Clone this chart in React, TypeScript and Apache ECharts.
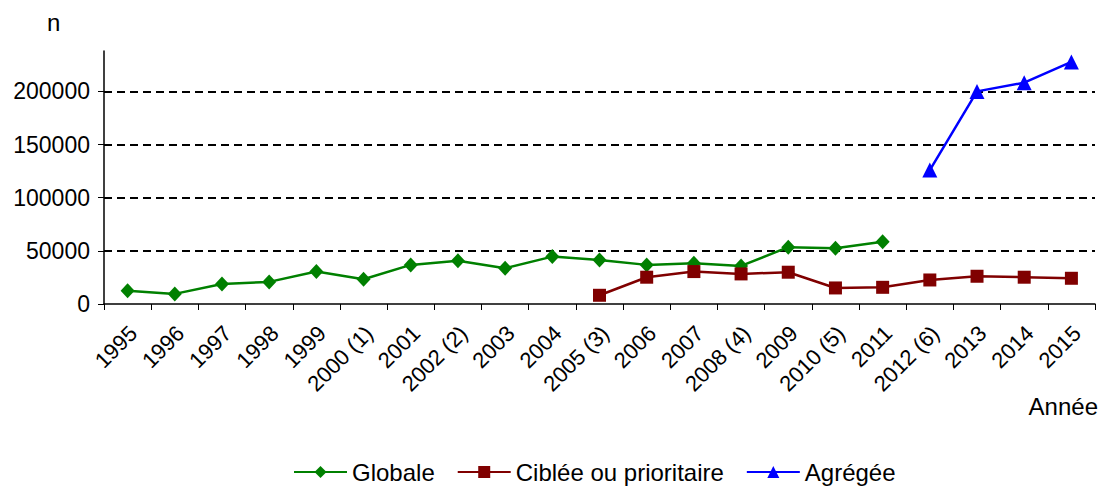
import React, { useEffect, useRef } from "react";
import * as echarts from "echarts";

const categories = [
  "1995", "1996", "1997", "1998", "1999", "2000 (1)", "2001", "2002 (2)", "2003", "2004",
  "2005 (3)", "2006", "2007", "2008 (4)", "2009", "2010 (5)", "2011", "2012 (6)", "2013", "2014", "2015",
];

const globale = [
  12500, 9500, 18900, 20800, 30500, 23300, 36800, 40600, 33700, 44600,
  41500, 36800, 38400, 35800, 53500, 52500, 58500, null, null, null, null,
];

const ciblee = [
  null, null, null, null, null, null, null, null, null, null,
  8200, 25200, 30500, 28300, 29900, 15100, 15700, 22600, 26100, 25200, 24200,
];

const agregee = [
  null, null, null, null, null, null, null, null, null, null,
  null, null, null, null, null, null, null, 126000, 200000, 208200, 227700,
];

const yTicks = [0, 50000, 100000, 150000, 200000];

const FONT = "Liberation Sans, Arial, sans-serif";

export default function App() {
  const ref = useRef<HTMLDivElement>(null);

  useEffect(() => {
    if (!ref.current) return;
    const chart = echarts.init(ref.current, null, { renderer: "svg" });
    chart.setOption({
      animation: false,
      backgroundColor: "#ffffff",
      textStyle: { fontFamily: FONT, color: "#000" },
      grid: { left: 104, right: 8, top: 51, bottom: 183, containLabel: false },
      legend: {
        top: 455,
        left: 288,
        itemWidth: 53,
        itemHeight: 15,
        itemGap: 22,
        textStyle: { fontSize: 24, color: "#000", fontFamily: FONT },
        data: ["Globale", "Ciblée ou prioritaire", "Agrégée"],
      },
      xAxis: {
        type: "category",
        data: categories,
        boundaryGap: true,
        axisLine: { lineStyle: { color: "#000", width: 1.5 } },
        axisTick: { show: true, alignWithLabel: false, length: 6, lineStyle: { color: "#000" } },
        axisLabel: {
          interval: 0,
          rotate: 45,
          margin: 20,
          verticalAlign: "top",
          lineHeight: 16,
          fontSize: 22,
          color: "#000",
          fontFamily: FONT,
        },
      },
      yAxis: {
        type: "value",
        min: 0,
        max: 238000,
        interval: 50000,
        axisLine: { show: true, lineStyle: { color: "#000", width: 1.5 } },
        axisTick: { show: true, length: 6, customValues: yTicks, lineStyle: { color: "#000" } },
        axisLabel: {
          customValues: yTicks,
          formatter: (v: number) => String(v),
          margin: 14,
          fontSize: 23,
          color: "#000",
          fontFamily: FONT,
        },
        splitLine: {
          show: true,
          showMinLine: false,
          lineStyle: { color: "#000", width: 2, type: [8, 5] },
        },
      },
      graphic: [
        { type: "text", left: 47, top: 10, style: { text: "n", fontSize: 24, fill: "#000", fontFamily: FONT } },
        { type: "text", right: 5, top: 394, style: { text: "Année", fontSize: 24, fill: "#000", fontFamily: FONT } },
      ],
      series: [
        {
          name: "Globale",
          type: "line",
          data: globale,
          color: "#008000",
          symbol: "diamond",
          symbolSize: [14, 15],
          lineStyle: { width: 2.5, color: "#008000" },
          itemStyle: { color: "#008000" },
        },
        {
          name: "Ciblée ou prioritaire",
          type: "line",
          data: ciblee,
          color: "#800000",
          symbol: "rect",
          symbolSize: 13,
          lineStyle: { width: 2.5, color: "#800000" },
          itemStyle: { color: "#800000" },
        },
        {
          name: "Agrégée",
          type: "line",
          data: agregee,
          color: "#0000ff",
          symbol: "triangle",
          symbolSize: 15,
          lineStyle: { width: 2.5, color: "#0000ff" },
          itemStyle: { color: "#0000ff" },
        },
      ],
    });
    return () => chart.dispose();
  }, []);

  return (
    <div
      ref={ref}
      style={{ position: "fixed", left: 0, top: 0, width: 1103, height: 487 }}
    />
  );
}
